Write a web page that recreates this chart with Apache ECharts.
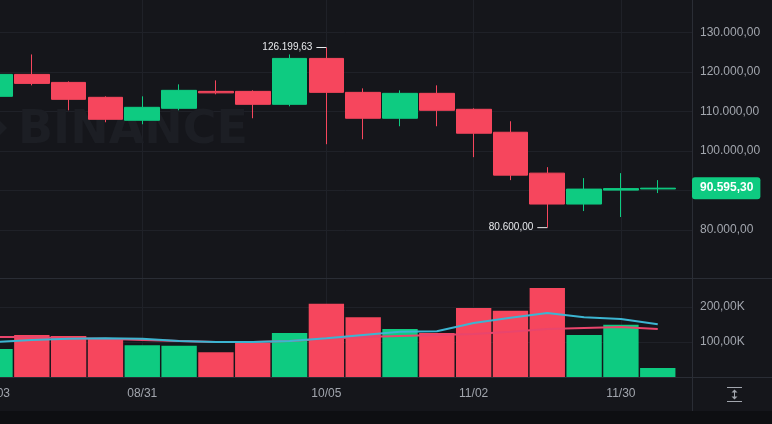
<!DOCTYPE html>
<html>
<head>
<meta charset="utf-8">
<title>BTC/USDT 1W</title>
<script src="https://cdn.jsdelivr.net/npm/echarts@6/dist/echarts.min.js"></script>
<style>
  html, body { margin: 0; padding: 0; background: #15161b; }
  #chart { width: 772px; height: 424px; }
</style>
</head>
<body>
<div id="chart"></div>
<script>
// weekly candles, one entry per week
const weeks  = ['08/03', '08/10', '08/17', '08/24', '08/31', '09/07', '09/14', '09/21', '09/28', '10/05',
                '10/12', '10/19', '10/26', '11/02', '11/09', '11/16', '11/23', '11/30', '12/07'];
const opens  = [113840, 119390, 117370, 113590, 107780, 110810, 115100, 115100, 111820, 123440,
                114850, 108290, 114600, 110560, 104750, 94400, 86570, 90100, 90400];
const closes = [119390, 117120, 113080, 108030, 111060, 115360, 114720, 111820, 123440, 114850,
                108290, 114600, 110310, 104500, 93890, 86570, 90360, 90480, 90595.30];
const lows   = [113300, 116620, 110300, 107280, 106770, 110300, 114350, 108290, 111320, 101720,
                102980, 106270, 106270, 98440, 92630, 80600, 84800, 83290, 89350];
const highs  = [119600, 124450, 117630, 113840, 113840, 116870, 117880, 115360, 124450, 126199.63,
                115860, 115360, 116620, 110810, 107530, 95910, 93140, 94400, 92630];
const volumes = [80000, 120000, 117000, 111000, 91000, 89000, 71000, 97000, 126000, 209000,
                 171000, 137000, 126000, 197000, 189000, 254000, 120000, 149000, 26000];
// volume moving averages
const volMaCyan = [100000, 106000, 109000, 111000, 109000, 103000, 100000, 100000, 103000, 111000,
                   120000, 129000, 131000, 154000, 169000, 183000, 171000, 166000, 151000];
const volMaPink = [114000, 114000, 111000, 109000, 106000, 103000, 100000, 100000, 103000, 109000,
                   114000, 117000, 120000, 123000, 129000, 137000, 140000, 143000, 137000];

const dateTicks = [0, 4, 9, 13, 17];
const priceTicks = [80000, 90000, 100000, 110000, 120000, 130000];
const priceLabels = [80000, 100000, 110000, 120000, 130000];
const volTicks = [100000, 200000];

const UP = '#0ecb81';
const DOWN = '#f6465d';
const GRID_LINE = '#1f2128';
const SEP = '#2a2d35';
const AXIS_TXT = '#a2a6ae';
const FONT = '"Liberation Sans", Arial, sans-serif';

function fmtPrice(v) {
    const parts = Number(v).toFixed(2).split('.');
    return parts[0].replace(/\B(?=(\d{3})+(?!\d))/g, '.') + ',' + parts[1];
}
function fmtVol(v) {
    return (v / 1000).toFixed(2).replace('.', ',') + 'K';
}

const candleData = weeks.map((w, i) => [i, opens[i], closes[i], lows[i], highs[i]]);
const volData = weeks.map((w, i) => ({
    value: [i, volumes[i]],
    itemStyle: { color: closes[i] >= opens[i] ? UP : DOWN }
}));

const chart = echarts.init(document.getElementById('chart'));

chart.setOption({
    backgroundColor: '#15161b',
    animation: false,
    textStyle: { fontFamily: FONT },
    grid: [
        { left: -5, right: 80, top: 0, height: 278, outerBoundsMode: 'none', containLabel: false },
        { left: -5, right: 80, top: 279, height: 98, outerBoundsMode: 'none', containLabel: false }
    ],
    xAxis: [{
        type: 'value', gridIndex: 0, min: 0, max: 18.93,
        axisLine: { show: false },
        axisTick: { show: false, customValues: dateTicks },
        axisLabel: { show: false, customValues: dateTicks },
        splitLine: { show: true, lineStyle: { color: GRID_LINE } }
    }, {
        type: 'value', gridIndex: 1, min: 0, max: 18.93,
        axisLine: { show: false },
        axisTick: { show: false, customValues: dateTicks },
        axisLabel: {
            customValues: dateTicks,
            formatter: v => weeks[Math.round(v)],
            color: AXIS_TXT, fontSize: 12, margin: 11, fontFamily: FONT
        },
        splitLine: { show: true, lineStyle: { color: GRID_LINE } }
    }],
    yAxis: [{
        type: 'value', gridIndex: 0, position: 'right', min: 67850, max: 138230,
        axisLine: { show: false },
        axisTick: { show: false, customValues: priceTicks },
        axisLabel: {
            customValues: priceLabels, formatter: fmtPrice,
            color: AXIS_TXT, fontSize: 12, margin: 8, fontFamily: FONT
        },
        splitLine: { show: true, lineStyle: { color: GRID_LINE } }
    }, {
        type: 'value', gridIndex: 1, position: 'right', min: 0, max: 280000,
        axisLine: { show: false },
        axisTick: { show: false, customValues: volTicks },
        axisLabel: {
            customValues: volTicks, formatter: fmtVol,
            color: AXIS_TXT, fontSize: 12, margin: 8, fontFamily: FONT
        },
        splitLine: { show: true, lineStyle: { color: GRID_LINE } }
    }],
    graphic: [
        // watermark
        {
            type: 'polygon', z: 1, silent: true,
            shape: { points: [[-14, 107], [7, 128], [-14, 149], [-35, 128]] },
            style: { fill: '#1c1e24' }
        },
        {
            type: 'text', left: 18, top: 108, z: 1, silent: true,
            style: { text: 'BINANCE', font: 'bold 46px "DejaVu Sans"', fill: '#1c1e24' }
        },
        // pane separators
        { type: 'line', silent: true, z: 5, shape: { x1: 0, y1: 278.5, x2: 772, y2: 278.5 }, style: { stroke: SEP, lineWidth: 1 } },
        { type: 'line', silent: true, z: 5, shape: { x1: 0, y1: 377.5, x2: 772, y2: 377.5 }, style: { stroke: SEP, lineWidth: 1 } },
        { type: 'line', silent: true, z: 5, shape: { x1: 692.5, y1: 0, x2: 692.5, y2: 411 }, style: { stroke: SEP, lineWidth: 1 } },
        { type: 'rect', silent: true, z: 5, shape: { x: 0, y: 411, width: 772, height: 13 }, style: { fill: '#0e0f12' } },
        // auto scale icon
        {
            type: 'group', silent: true, z: 5,
            children: [
                { type: 'line', shape: { x1: 727, y1: 387.5, x2: 742, y2: 387.5 }, style: { stroke: AXIS_TXT, lineWidth: 1 } },
                { type: 'line', shape: { x1: 727, y1: 401.5, x2: 742, y2: 401.5 }, style: { stroke: AXIS_TXT, lineWidth: 1 } },
                { type: 'line', shape: { x1: 734.5, y1: 390, x2: 734.5, y2: 399 }, style: { stroke: AXIS_TXT, lineWidth: 1 } },
                { type: 'polygon', shape: { points: [[731.5, 392.5], [734.5, 389.5], [737.5, 392.5]] }, style: { fill: AXIS_TXT } },
                { type: 'polygon', shape: { points: [[731.5, 396.5], [734.5, 399.5], [737.5, 396.5]] }, style: { fill: AXIS_TXT } }
            ]
        }
    ],
    series: [{
        name: 'BTCUSDT',
        type: 'candlestick',
        xAxisIndex: 0, yAxisIndex: 0,
        clip: false,
        barWidth: '96%',
        data: candleData,
        itemStyle: { color: UP, color0: DOWN, borderColor: UP, borderColor0: DOWN, borderWidth: 1 },
        markPoint: {
            symbol: 'rect', symbolSize: [10, 1], symbolOffset: [-5, 0],
            itemStyle: { color: '#e8eaed' },
            label: {
                position: 'left', distance: 4, color: '#e8eaed', fontSize: 10, fontFamily: FONT,
                formatter: p => fmtPrice(p.value)
            },
            data: [
                { type: 'max', valueDim: 'highest' },
                { type: 'min', valueDim: 'lowest' }
            ]
        },
        markLine: {
            symbol: 'none', silent: true,
            lineStyle: { color: 'transparent', width: 0, opacity: 1 },
            label: {
                position: 'end', distance: 0, formatter: p => fmtPrice(p.value),
                backgroundColor: UP, color: '#ffffff', fontSize: 12, fontWeight: 'bold',
                padding: [5, 7, 5, 8], borderRadius: 3, fontFamily: FONT, opacity: 1
            },
            data: [{ yAxis: closes[closes.length - 1] }]
        }
    }, {
        name: 'Volume',
        type: 'bar',
        xAxisIndex: 1, yAxisIndex: 1,
        barWidth: '96%',
        data: volData
    }, {
        name: 'MA slow',
        type: 'line',
        xAxisIndex: 1, yAxisIndex: 1,
        symbol: 'none',
        lineStyle: { color: '#e9456c', width: 2 },
        data: volMaPink.map((v, i) => [i, v])
    }, {
        name: 'MA fast',
        type: 'line',
        xAxisIndex: 1, yAxisIndex: 1,
        symbol: 'none',
        lineStyle: { color: '#3cb5d2', width: 2 },
        data: volMaCyan.map((v, i) => [i, v])
    }]
});
</script>
</body>
</html>
